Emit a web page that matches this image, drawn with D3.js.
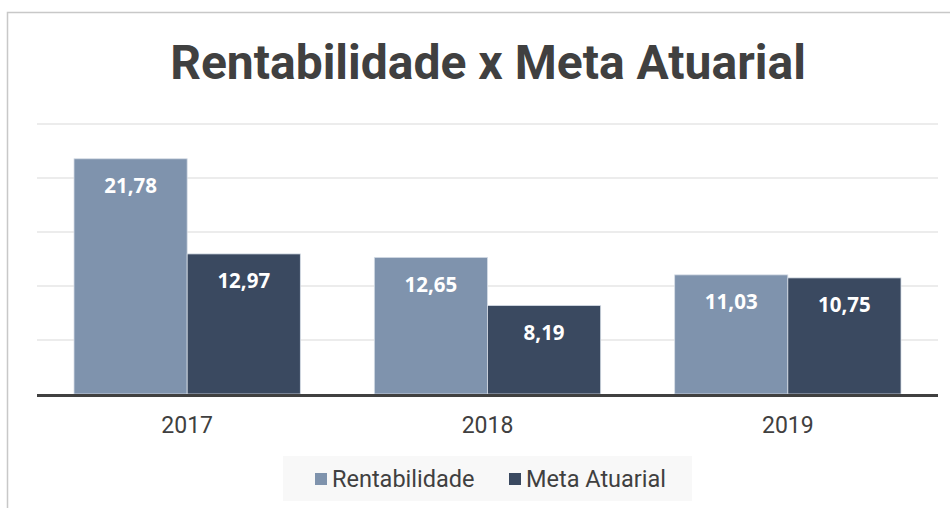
<!DOCTYPE html>
<html><head><meta charset="utf-8">
<script src="https://cdn.jsdelivr.net/npm/d3@7"></script>
<style>html,body{margin:0;padding:0;background:#fff;}svg{display:block;}</style>
</head><body>
<script>
const categories = ["2017", "2018", "2019"];
const seriesNames = ["Rentabilidade", "Meta Atuarial"];
const rentabilidade = [21.78, 12.65, 11.03];
const metaAtuarial = [12.97, 8.19, 10.75];
const yTicks = [0, 5, 10, 15, 20, 25];
const colors = ["#7f93ad", "#3a4960"];

const W = 950, H = 508;
const svg = d3.select("body").append("svg").attr("width", W).attr("height", H);

// outer frame
svg.append("rect").attr("x", 7.5).attr("y", 12.5).attr("width", 960).attr("height", 520)
  .attr("fill", "#fff").attr("stroke", "#c8c8c8").attr("stroke-width", 1.5);

svg.append("text").attr("x", 488).attr("y", 79).attr("text-anchor", "middle")
  .attr("font-family", "Roboto").attr("font-weight", 700).attr("font-size", 48)
  .attr("fill", "#404040").text("Rentabilidade x Meta Atuarial");

const x0 = d3.scaleBand().domain(categories).range([37, 938]).padding(0);
const x1 = d3.scaleBand().domain(seriesNames).range([0, x0.bandwidth()]).paddingInner(0).paddingOuter(0.327);
const y = d3.scaleLinear().domain([0, 25]).range([394, 124]);

// gridlines
svg.append("g").selectAll("line").data(yTicks.filter(t => t > 0)).join("line")
  .attr("x1", 37).attr("x2", 938).attr("y1", d => y(d)).attr("y2", d => y(d))
  .attr("stroke", "#d9d9d9").attr("stroke-width", 1.2);

const data = categories.map((c, i) => ({cat: c, vals: [rentabilidade[i], metaAtuarial[i]]}));

const g = svg.append("g").selectAll("g").data(data).join("g")
  .attr("transform", d => `translate(${x0(d.cat)},0)`);

g.selectAll("rect").data(d => d.vals.map((v, j) => ({name: seriesNames[j], v, j}))).join("rect")
  .attr("x", d => x1(d.name)).attr("width", x1.bandwidth())
  .attr("y", d => y(d.v)).attr("height", d => y(0) - y(d.v))
  .attr("fill", d => colors[d.j]).attr("stroke", "#d6dde6").attr("stroke-width", 0.8);

g.selectAll("text").data(d => d.vals.map((v, j) => ({name: seriesNames[j], v, j}))).join("text")
  .attr("x", d => x1(d.name) + x1.bandwidth() / 2).attr("y", d => y(d.v) + 34.5)
  .attr("text-anchor", "middle").attr("font-family", "Open Sans").attr("font-weight", 700)
  .attr("font-size", 20.5).attr("fill", "#fff")
  .text(d => d3.format(".2f")(d.v).replace(".", ","));

// baseline axis
const xAxis = svg.append("g").attr("transform", `translate(0,${y(0)})`)
  .call(d3.axisBottom(x0).tickSize(0).tickPadding(23));
xAxis.select(".domain").attr("stroke", "#404040").attr("stroke-width", 3).attr("d", "M37,1.5H938");
xAxis.selectAll("text").attr("font-family", "Roboto").attr("font-size", 23).attr("fill", "#404040");

// legend
svg.append("rect").attr("x", 283).attr("y", 456).attr("width", 409).attr("height", 45).attr("fill", "#f8f8f8");
const legendX = [315, 509];
const lg = svg.append("g").selectAll("g").data(seriesNames).join("g")
  .attr("transform", (d, i) => `translate(${legendX[i]},0)`);
lg.append("rect").attr("x", 0).attr("y", 473).attr("width", 12).attr("height", 12).attr("fill", (d, i) => colors[i]);
lg.append("text").attr("x", 17).attr("y", 487).attr("font-family", "Roboto").attr("font-size", 23.5)
  .attr("fill", "#404040").text(d => d);
</script>
</body></html>
